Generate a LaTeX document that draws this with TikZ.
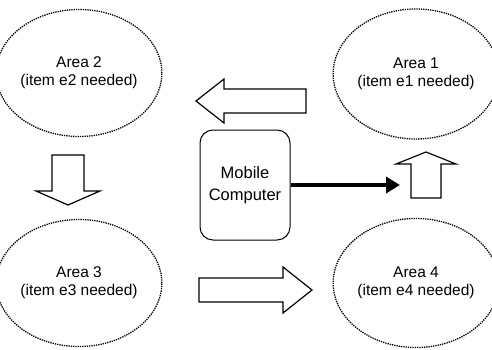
\documentclass[tikz,border=0pt]{standalone}
\usepackage{fontspec}
\setmainfont{Liberation Sans}
\usetikzlibrary{shapes.geometric,arrows.meta}
\begin{document}
\begin{tikzpicture}[x=1pt,y=-1pt,
  area/.style={ellipse, draw, line width=1.3pt, densely dotted, align=center,
    font=\fontsize{15.5}{18}\selectfont, inner sep=0pt},
  comp/.style={draw, line width=1pt, rounded corners=13pt, align=center,
    font=\fontsize{16.5}{22}\selectfont, inner sep=0pt},
  blockarrow/.style={draw, line width=1.2pt, fill=white, line join=miter},
  thickarrow/.style={line width=4pt, -{Triangle[length=14pt,width=16pt]}}]
\useasboundingbox (0,0) rectangle (492,350);

\node[area, minimum width=146pt, minimum height=127pt] (a2) at (79,73) {Area 2\\(item e2 needed)};
\node[area, minimum width=144pt, minimum height=130pt] (a1) at (416,74) {Area 1\\(item e1 needed)};
\node[area, minimum width=148pt, minimum height=127pt] (a3) at (79,283) {Area 3\\(item e3 needed)};
\node[area, minimum width=144pt, minimum height=129pt] (a4) at (416,283) {Area 4\\(item e4 needed)};

\node[comp, minimum width=90pt, minimum height=110pt] (mc) at (245,185) {Mobile\\Computer};

\coordinate (mcend) at (400,185);
\draw[thickarrow] (mc.east) -- (mcend);

% left block arrow (Area 1 -> Area 2)
\draw[blockarrow] (196,101) -- (224,79) -- (224,89) -- (306,89) -- (306,113) -- (224,113) -- (224,123) -- cycle;
% down block arrow (Area 2 -> Area 3)
\draw[blockarrow] (68,205) -- (36,191) -- (52,191) -- (52,155) -- (84,155) -- (84,191) -- (100,191) -- cycle;
% right block arrow (Area 3 -> Area 4)
\draw[blockarrow] (312,290) -- (283,313) -- (283,302) -- (199,302) -- (199,278) -- (283,278) -- (283,267) -- cycle;
% up block arrow (Area 4 -> Area 1)
\draw[blockarrow] (426,152) -- (456,164) -- (441,164) -- (441,198) -- (411,198) -- (411,164) -- (396,164) -- cycle;
\end{tikzpicture}
\end{document}
